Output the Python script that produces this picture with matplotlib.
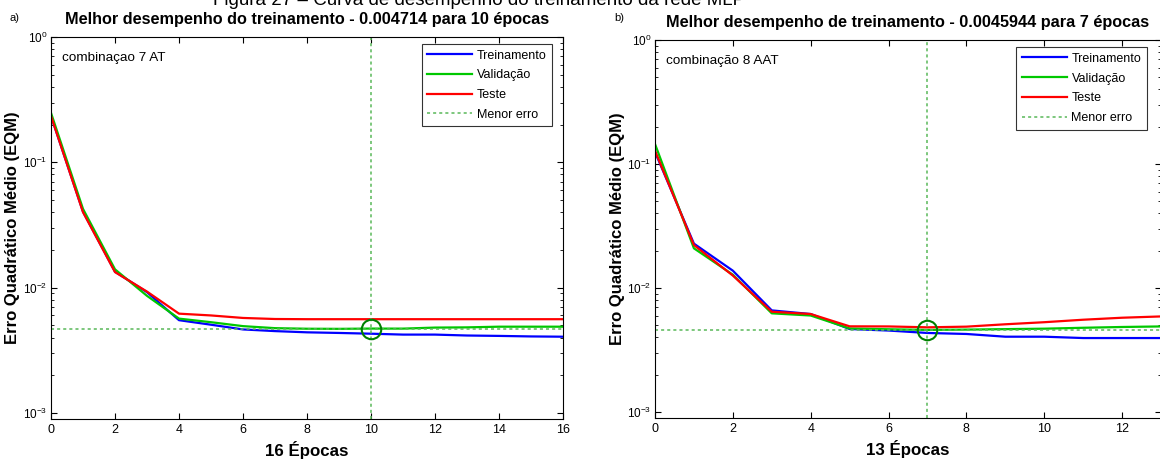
import matplotlib
matplotlib.use("Agg")
import matplotlib.pyplot as plt
from matplotlib.ticker import LogLocator, NullFormatter

plt.rcParams['font.family'] = ['Liberation Sans', 'DejaVu Sans']

# --------------------------------------------------------------------------
# Data
# --------------------------------------------------------------------------
epochs_a = list(range(17))
train_a = [0.234, 0.0404, 0.0134, 0.0092, 0.0055, 0.00506, 0.00464, 0.0045, 0.0044,
           0.00435, 0.00429, 0.00422, 0.00422, 0.00415, 0.00412, 0.00408, 0.00406]
valid_a = [0.248, 0.0425, 0.0140, 0.0086, 0.00566, 0.0053, 0.00493, 0.00475, 0.00470,
           0.00469, 0.004714, 0.00471, 0.0048, 0.00482, 0.00488, 0.00488, 0.00488]
test_a = [0.234, 0.0400, 0.0133, 0.0093, 0.0062, 0.0060, 0.00573, 0.00562, 0.0056,
          0.0056, 0.0056, 0.0056, 0.0056, 0.0056, 0.0056, 0.0056, 0.0056]
best_a = (10, 0.004714)

epochs_b = list(range(14))
train_b = [0.125, 0.0228, 0.0138, 0.0066, 0.00617, 0.00467, 0.00454, 0.00434, 0.00426,
           0.00405, 0.00405, 0.00395, 0.00395, 0.00395]
valid_b = [0.145, 0.0209, 0.0128, 0.00625, 0.0060, 0.00472, 0.00465, 0.0045944, 0.00462,
           0.00466, 0.0047, 0.00478, 0.00485, 0.0049]
test_b = [0.128, 0.0222, 0.0126, 0.00644, 0.00617, 0.00491, 0.0049, 0.00482, 0.00488,
          0.0051, 0.0053, 0.00555, 0.00576, 0.0059]
best_b = (7, 0.0045944)

panels = [
    dict(ep=epochs_a, tr=train_a, va=valid_a, te=test_a, best=best_a,
         title='Melhor desempenho do treinamento - 0.004714 para 10 épocas',
         tag='a)', note='combinaçao 7 AT', xlabel='16 Épocas',
         xticks=range(0, 17, 2), xmax=16,
         rect=[51 / 1160, 42 / 461, 512 / 1160, 382 / 461], tagx=9,
         leg_anchor=(0.9785, 0.982)),
    dict(ep=epochs_b, tr=train_b, va=valid_b, te=test_b, best=best_b,
         title='Melhor desempenho de treinamento - 0.0045944 para 7 épocas',
         tag='b)', note='combinação 8 AAT', xlabel='13 Épocas',
         xticks=range(0, 13, 2), xmax=13,
         rect=[655 / 1160, 43 / 461, 506 / 1160, 378 / 461], tagx=614,
         leg_anchor=(0.972, 0.981)),
]

fig = plt.figure(figsize=(11.6, 4.61), dpi=100)

# caption of the page, cut off by the top edge
fig.text(213 / 1160, 456 / 461, 'Figura 27 – Curva de desempenho do treinamento da rede MLP',
         fontsize=13.5, va='baseline', ha='left')

dash_green = (0.35, 0.72, 0.35)

for p in panels:
    ax = fig.add_axes(p['rect'])
    ax.semilogy(p['ep'], p['tr'], color='#0000ff', lw=1.6, label='Treinamento')
    ax.semilogy(p['ep'], p['va'], color='#00c800', lw=1.6, label='Validação')
    ax.semilogy(p['ep'], p['te'], color='#ff0000', lw=1.6, label='Teste')
    bx, by = p['best']
    ax.axhline(by, color=dash_green, ls=(0, (2, 2)), lw=1.1, label='Menor erro')
    ax.axvline(bx, color=dash_green, ls=(0, (2, 2)), lw=1.1)
    ax.plot([bx], [by], 'o', mfc='none', mec=(0, 0.5, 0), ms=14, mew=1.5)

    ax.set_xlim(0, p['xmax'])
    ax.set_ylim(8.95e-4, 1)
    ax.set_xticks(list(p['xticks']))
    ax.yaxis.set_major_locator(LogLocator(base=10, numticks=10))
    ax.yaxis.set_minor_locator(LogLocator(base=10, subs=range(2, 10), numticks=20))
    ax.yaxis.set_minor_formatter(NullFormatter())
    ax.tick_params(which='both', direction='in', top=True, right=True, labelsize=9)
    ax.tick_params(axis='y', labelsize=8.5, pad=2.5)
    ax.tick_params(which='major', length=4.5)
    ax.tick_params(which='minor', length=2.5)
    for s in ax.spines.values():
        s.set_linewidth(0.8)

    ax.set_title(p['title'], fontsize=11.7, fontweight='bold', pad=9)
    ax.set_xlabel(p['xlabel'], fontsize=12.2, fontweight='bold')
    ax.xaxis.set_label_coords(0.5, -0.058)
    ax.set_ylabel('Erro Quadrático Médio (EQM)', fontsize=12, fontweight='bold')
    ax.yaxis.set_label_coords(-0.06, 0.5)
    ax.text(0.022, 0.945, p['note'], transform=ax.transAxes, fontsize=9.7, va='center')
    fig.text(p['tagx'] / 1160, 443 / 461, p['tag'], fontsize=8, va='center')

    leg = ax.legend(loc='upper right', bbox_to_anchor=p['leg_anchor'], fontsize=9,
                    frameon=True, fancybox=False, handlelength=3.6, handletextpad=0.35,
                    borderpad=0.45, labelspacing=0.62, borderaxespad=0)
    leg.get_frame().set_edgecolor('black')
    leg.get_frame().set_linewidth(0.8)

fig.savefig('out.png', dpi=100)
